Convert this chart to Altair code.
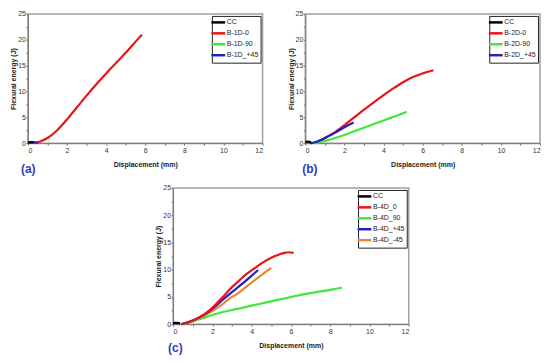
import altair as alt
import pandas as pd

FONT = "Liberation Sans"

# ---------------- axis values ----------------
x_ticks = list(range(0, 13))
y_ticks = [0, 2.5, 5, 7.5, 10, 12.5, 15, 17.5, 20, 22.5, 25]

# ---------------- panel (a) ----------------
a_names = ["CC", "B-1D-0", "B-1D-90", "B-1D_+45"]
a_colors = ["#000000", "#e8141c", "#3ee83a", "#2020c8"]
a_cc_x = [0.0, 0.15, 0.3]
a_cc_y = [0.1, 0.2, 0.15]
a_0_x = [0.3, 0.6, 1.0, 1.5, 2.0, 2.5, 3.0, 3.5, 4.0, 4.5, 5.0, 5.5, 5.83]
a_0_y = [0.05, 0.3, 1.0, 2.5, 4.6, 6.9, 9.2, 11.4, 13.5, 15.5, 17.5, 19.6, 21.0]
a_90_x = [0.0, 0.4]
a_90_y = [0.1, 0.1]
a_45_x = [0.0, 0.25, 0.5]
a_45_y = [0.1, 0.15, 0.1]

# ---------------- panel (b) ----------------
b_names = ["CC", "B-2D-0", "B-2D-90", "B-2D_+45"]
b_colors = ["#000000", "#e8141c", "#3ee83a", "#2020c8"]
b_cc_x = [0.0, 0.1, 0.2, 0.3]
b_cc_y = [0.15, 0.3, 0.25, 0.1]
b_0_x = [0.3, 0.6, 1.0, 1.5, 2.0, 2.5, 3.0, 3.5, 4.0, 4.5, 5.0, 5.5, 6.0, 6.55]
b_0_y = [0.0, 0.3, 1.0, 2.1, 3.5, 5.0, 6.5, 7.9, 9.3, 10.6, 11.8, 12.8, 13.5, 14.1]
b_90_x = [0.4, 0.8, 1.2, 1.6, 2.0, 2.5, 3.0, 3.5, 4.0, 4.5, 5.0, 5.18]
b_90_y = [0.0, 0.3, 0.65, 1.1, 1.6, 2.3, 3.0, 3.7, 4.4, 5.1, 5.8, 6.1]
b_45_x = [0.25, 0.5, 1.0, 1.5, 2.0, 2.47]
b_45_y = [0.0, 0.2, 1.0, 2.0, 3.1, 4.0]

# ---------------- panel (c) ----------------
c_names = ["CC", "B-4D_0", "B-4D_90", "B-4D_+45", "B-4D_-45"]
c_colors = ["#000000", "#e8141c", "#3ee83a", "#2020c8", "#e8872f"]
c_cc_x = [0.0, 0.15, 0.35]
c_cc_y = [0.2, 0.25, 0.2]
c_0_x = [0.4, 0.8, 1.2, 1.64, 2.0, 2.48, 3.0, 3.32, 3.7, 4.16, 4.6, 5.0, 5.4, 5.67, 5.9, 6.14]
c_0_y = [0.0, 0.4, 1.0, 1.95, 3.0, 4.8, 6.8, 7.85, 9.1, 10.3, 11.4, 12.2, 12.8, 13.1, 13.2, 13.1]
c_90_x = [0.5, 1.0, 1.5, 2.0, 3.0, 4.0, 5.0, 6.0, 7.0, 8.0, 8.6]
c_90_y = [0.0, 0.5, 1.1, 1.7, 2.6, 3.4, 4.2, 5.0, 5.7, 6.3, 6.7]
c_p45_x = [0.4, 0.8, 1.2, 1.6, 2.0, 2.5, 3.0, 3.5, 4.0, 4.33]
c_p45_y = [0.0, 0.4, 1.0, 1.8, 2.8, 4.4, 5.9, 7.35, 8.9, 9.95]
c_m45_x = [0.4, 0.8, 1.2, 1.6, 2.0, 2.48, 3.0, 3.32, 3.7, 4.2, 4.6, 5.0]
c_m45_y = [0.0, 0.35, 0.9, 1.6, 2.4, 3.6, 5.0, 5.7, 6.8, 8.2, 9.3, 10.35]


def make_df(series):
    rows = []
    for name, xs, ys in series:
        for i, (x, y) in enumerate(zip(xs, ys)):
            rows.append({"series": name, "x": x, "y": y, "i": i})
    return pd.DataFrame(rows)


def panel(df, names, colors, label, dx, off, w, h):
    return alt.Chart(df).mark_line(strokeWidth=2.2, interpolate="monotone").encode(
        x=alt.X("x:Q", scale=alt.Scale(domain=[0, 12], nice=False),
                axis=alt.Axis(values=x_ticks, title="Displacement (mm)",
                              labelExpr="datum.value % 2 == 0 ? datum.label : ''",
                              titlePadding=7)),
        y=alt.Y("y:Q", scale=alt.Scale(domain=[0, 25], nice=False),
                axis=alt.Axis(values=y_ticks, title="Flexural energy (J)",
                              labelExpr="datum.value % 5 == 0 ? datum.label : ''",
                              titlePadding=1, labelPadding=0.5)),
        color=alt.Color("series:N",
                        scale=alt.Scale(domain=names, range=colors),
                        legend=alt.Legend(title=None, orient="top-right", offset=2,
                                          strokeColor="#222222", fillColor="white",
                                          padding=2, symbolType="M-2.3,0H2.3",
                                          symbolSize=36, symbolStrokeWidth=2.5,
                                          labelFontSize=7, labelFont=FONT,
                                          labelColor="#222222", labelOffset=4,
                                          rowPadding=0)),
        order="i:Q",
    ).properties(
        width=w, height=h,
        title=alt.TitleParams(text=label, orient="bottom", anchor="start",
                              frame="group", dx=dx, offset=off, fontSize=12,
                              fontWeight="bold", color="#2b3bbf", font=FONT),
    )


a_df = make_df([("B-1D-0", a_0_x, a_0_y), ("B-1D-90", a_90_x, a_90_y),
                ("B-1D_+45", a_45_x, a_45_y), ("CC", a_cc_x, a_cc_y)])
b_df = make_df([("B-2D-0", b_0_x, b_0_y), ("B-2D-90", b_90_x, b_90_y),
                ("B-2D_+45", b_45_x, b_45_y), ("CC", b_cc_x, b_cc_y)])
c_df = make_df([("B-4D_90", c_90_x, c_90_y), ("B-4D_-45", c_m45_x, c_m45_y),
                ("B-4D_+45", c_p45_x, c_p45_y), ("B-4D_0", c_0_x, c_0_y),
                ("CC", c_cc_x, c_cc_y)])

pa = panel(a_df, a_names, a_colors, "(a)", -7, -3, 236, 130)
pb = panel(b_df, b_names, b_colors, "(b)", -3, -3, 236, 130)
pc = panel(c_df, c_names, c_colors, "(c)", -5, -5, 237, 137)

spacer = alt.Chart(pd.DataFrame({"v": [0.5]})).mark_point(opacity=0, size=1).encode(
    x=alt.X("v:Q", axis=None, scale=alt.Scale(domain=[0, 1])),
    y=alt.Y("v:Q", axis=None, scale=alt.Scale(domain=[0, 1])),
).properties(width=124, height=10, view=alt.ViewBackground(stroke="transparent"))

res = dict(x="independent", y="independent", color="independent")
top = alt.hconcat(pa, pb, spacing=21).resolve_scale(**res)
bottom = alt.hconcat(spacer, pc, spacing=1).resolve_scale(**res)

chart = alt.vconcat(top, bottom, spacing=7).resolve_scale(**res).properties(
    padding=0, background="white"
).configure_view(
    stroke="#a0a0a0", strokeWidth=1.5
).configure_axis(
    grid=False, labelFontSize=7, labelFont=FONT, labelColor="#333333",
    titleFontSize=7, titleFont=FONT, titleFontWeight="bold", titleColor="#222222",
    tickSize=2, labelPadding=1, domainColor="#777777", tickColor="#777777",
)

chart.save("out.html", embed_options={"renderer": "svg", "actions": False})
